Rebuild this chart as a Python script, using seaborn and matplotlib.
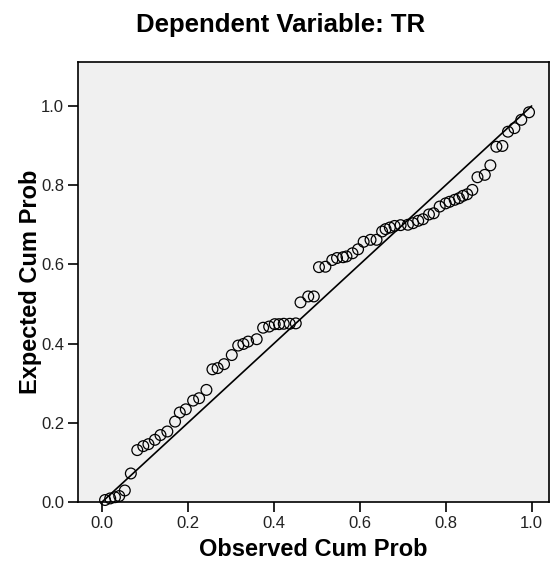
import numpy as np
import pandas as pd
import seaborn as sns
import matplotlib
matplotlib.use("Agg")
import matplotlib.pyplot as plt

# observed vs expected cumulative probabilities
observed = [0.007, 0.019, 0.030, 0.040, 0.053, 0.067, 0.082, 0.096, 0.108, 0.123,
            0.136, 0.152, 0.170, 0.181, 0.195, 0.212, 0.226, 0.243, 0.257, 0.269,
            0.284, 0.302, 0.317, 0.329, 0.340, 0.360, 0.375, 0.389, 0.402, 0.412,
            0.423, 0.437, 0.451, 0.462, 0.480, 0.493, 0.505, 0.520, 0.536, 0.547,
            0.561, 0.569, 0.583, 0.596, 0.609, 0.625, 0.639, 0.652, 0.660, 0.670,
            0.681, 0.695, 0.712, 0.724, 0.736, 0.747, 0.761, 0.772, 0.786, 0.800,
            0.809, 0.821, 0.831, 0.840, 0.850, 0.862, 0.874, 0.891, 0.904, 0.918,
            0.932, 0.945, 0.960, 0.976, 0.994]
expected = [0.005, 0.009, 0.012, 0.015, 0.029, 0.072, 0.131, 0.141, 0.146, 0.157,
            0.169, 0.178, 0.203, 0.226, 0.234, 0.256, 0.262, 0.283, 0.335, 0.338,
            0.348, 0.371, 0.395, 0.399, 0.405, 0.411, 0.440, 0.443, 0.449, 0.449,
            0.450, 0.450, 0.451, 0.504, 0.519, 0.519, 0.593, 0.594, 0.611, 0.616,
            0.618, 0.620, 0.628, 0.638, 0.657, 0.662, 0.662, 0.683, 0.689, 0.693,
            0.697, 0.699, 0.700, 0.704, 0.710, 0.714, 0.726, 0.729, 0.746, 0.754,
            0.758, 0.763, 0.767, 0.773, 0.777, 0.788, 0.820, 0.826, 0.850, 0.897,
            0.899, 0.935, 0.944, 0.965, 0.984]
ref_line = [0.0, 1.0]
ticks = [0.0, 0.2, 0.4, 0.6, 0.8, 1.0]

df = pd.DataFrame({"Observed Cum Prob": observed, "Expected Cum Prob": expected})

sns.set_style("ticks", {"axes.facecolor": "#f0f0f0", "axes.edgecolor": "black",
                        "text.color": "black", "axes.labelcolor": "black",
                        "xtick.color": "black", "ytick.color": "black"})
plt.rcParams["font.family"] = ["Liberation Sans", "DejaVu Sans"]

fig = plt.figure(figsize=(5.5, 5.61), dpi=100)
ax = fig.add_axes([0.1418, 0.1052, 0.856, 0.7843])

# diagonal reference line
sns.lineplot(x=ref_line, y=ref_line, color="black", linewidth=1.2, ax=ax)

sns.scatterplot(data=df, x="Observed Cum Prob", y="Expected Cum Prob",
                facecolor="none", edgecolor="black", linewidth=0.9,
                s=60, clip_on=False, zorder=3, ax=ax)

ax.set_xlim(-0.056, 1.04)
ax.set_ylim(0.0, 1.111)
ax.set_xticks(ticks)
ax.set_yticks(ticks)
ax.set_xticklabels([f"{t:.1f}" for t in ticks])
ax.set_yticklabels([f"{t:.1f}" for t in ticks])
ax.tick_params(direction="out", length=7, width=1.2, labelsize=12, color="black",
               labelcolor="#222222", pad=3)
for sp in ax.spines.values():
    sp.set_linewidth(1.2)

ax.set_xlabel("Observed Cum Prob", fontsize=17, fontweight="bold", labelpad=5)
ax.set_ylabel("Expected Cum Prob", fontsize=17, fontweight="bold", labelpad=-1)
fig.text(0.51, 1 - 25 / 561, "Dependent Variable: TR", ha="center", va="center",
         fontsize=18.5, fontweight="bold")

plt.savefig("out.png", dpi=100)
